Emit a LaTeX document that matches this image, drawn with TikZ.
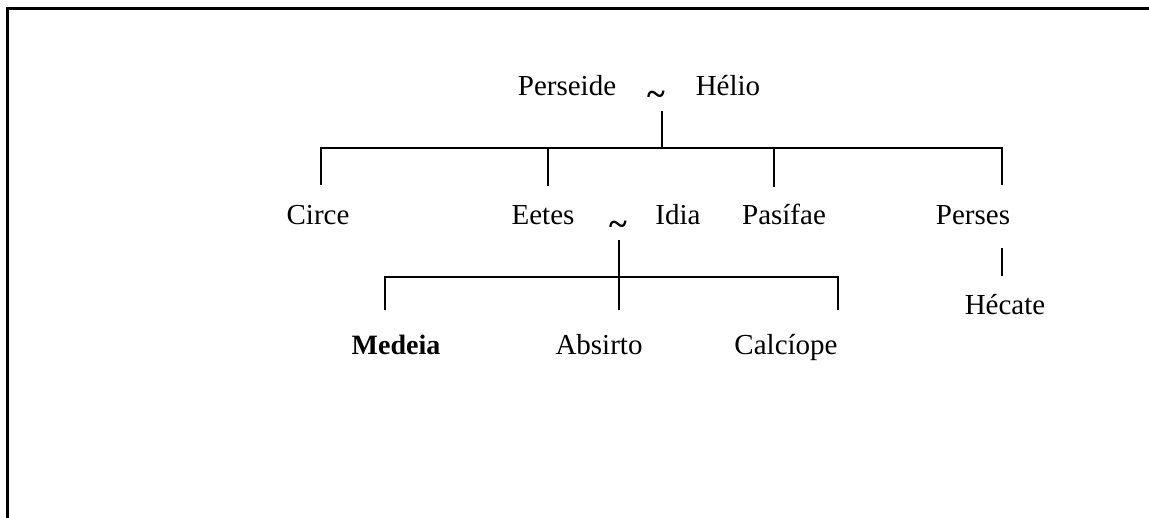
\documentclass[tikz,border=0pt]{standalone}
\usepackage{fontspec}
\setmainfont{Liberation Serif}
\begin{document}
\begin{tikzpicture}[x=1pt,y=-1pt,
  lbl/.style={anchor=base,inner sep=0pt,font=\fontsize{29}{32}\selectfont},
  lblb/.style={lbl,font=\fontsize{28}{32}\selectfont\bfseries},
  til/.style={anchor=base,inner sep=0pt,font=\fontsize{34}{36}\selectfont\bfseries},
  frame/.style={line width=2.5pt},
  tree/.style={line width=1.8pt}]
\useasboundingbox (0,0) rectangle (1149,518);
% frame
\coordinate (fr1) at (6,8.5);
\coordinate (fr2) at (1149,8.5);
\coordinate (fr3) at (7.5,7.5);
\coordinate (fr4) at (7.5,518);
\draw[frame] (fr1) -- (fr2);
\draw[frame] (fr3) -- (fr4);
% generation 1
\node[lbl] (perseide) at (567,96) {Perseide};
\node[til] (t1) at (656,106) {\textasciitilde};
\node[lbl] (helio) at (728,96) {Hélio};
% generation 2
\node[lbl] (circe) at (318,225) {Circe};
\node[lbl] (eetes) at (543,225) {Eetes};
\node[til] (t2) at (618,236) {\textasciitilde};
\node[lbl] (idia) at (678,225) {Idia};
\node[lbl] (pasifae) at (784,225) {Pasífae};
\node[lbl] (perses) at (973,225) {Perses};
\node[lbl] (hecate) at (1005,315) {Hécate};
% generation 3
\node[lblb] (medeia) at (396,355) {Medeia};
\node[lbl] (absirto) at (599,355) {Absirto};
\node[lbl] (calciope) at (786,355) {Calcíope};
% junction coordinates
\coordinate (t1d) at (662,111);
\coordinate (j1) at (662,148);
\coordinate (b1l) at (321,148);
\coordinate (b1e) at (548,148);
\coordinate (b1p) at (774,148);
\coordinate (b1r) at (1002,148);
\coordinate (circeT) at (321,185);
\coordinate (eetesT) at (548,186);
\coordinate (pasifaeT) at (774,187);
\coordinate (persesT) at (1002,185);
\coordinate (persesB) at (1002,248);
\coordinate (hecateT) at (1002,276);
\coordinate (t2d) at (619,240);
\coordinate (j2) at (619,277);
\coordinate (b2l) at (385,277);
\coordinate (b2r) at (838,277);
\coordinate (medeiaT) at (385,310);
\coordinate (absirtoT) at (619,310);
\coordinate (calciopeT) at (838,310);
% tree lines
\draw[tree] (t1d) -- (j1);
\draw[tree] (circeT) -- (b1l) -- (b1r) -- (persesT);
\draw[tree] (b1e) -- (eetesT);
\draw[tree] (b1p) -- (pasifaeT);
\draw[tree] (persesB) -- (hecateT);
\draw[tree] (t2d) -- (absirtoT);
\draw[tree] (medeiaT) -- (b2l) -- (b2r) -- (calciopeT);
\end{tikzpicture}
\end{document}
